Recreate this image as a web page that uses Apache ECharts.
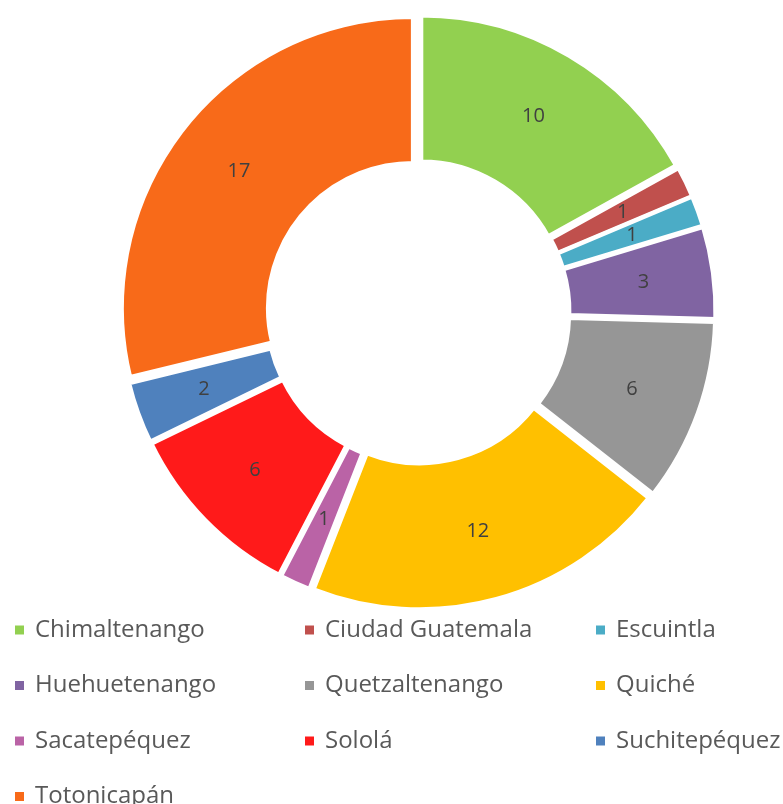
<!DOCTYPE html>
<html>
<head>
<meta charset="utf-8">
<script src="https://cdn.jsdelivr.net/npm/echarts@6/dist/echarts.min.js"></script>
<style>
  html, body { margin: 0; padding: 0; background: #fff; }
  #chart { width: 783px; height: 804px; }
</style>
</head>
<body>
<div id="chart"></div>
<script>
  // datos del gráfico (en orden horario desde las 12)
  var departamentos = ['Chimaltenango', 'Ciudad Guatemala', 'Escuintla', 'Huehuetenango', 'Quetzaltenango',
    'Quiché', 'Sacatepéquez', 'Sololá', 'Suchitepéquez', 'Totonicapán'];
  var cantidades = [10, 1, 1, 3, 6, 12, 1, 6, 2, 17];
  var colores = ['#92D050', '#C0504D', '#4BACC6', '#8064A2', '#969696',
    '#FFC000', '#BA63A6', '#FF1A1A', '#4F81BD', '#F86A19'];

  var chart = echarts.init(document.getElementById('chart'));

  var datos = departamentos.map(function (nombre, i) {
    return { name: nombre, value: cantidades[i], selected: true, itemStyle: { color: colores[i] } };
  });

  // leyenda en 3 columnas; la cuarta fila va aparte para que no se parta
  var xCol = [13, 303, 594];
  var filaAlto = 55.5;
  var leyendas = [];
  departamentos.forEach(function (nombre, i) {
    var fila = Math.floor(i / 3), col = i % 3;
    leyendas.push({
      left: xCol[col],
      top: 618 + fila * filaAlto,
      padding: 0,
      itemWidth: 11,
      itemHeight: 11,
      icon: 'rect',
      selectedMode: false,
      data: [nombre],
      textStyle: {
        fontFamily: 'Open Sans',
        fontSize: 24,
        lineHeight: 24,
        color: '#595959',
        padding: [0, 0, 0, 5]
      }
    });
  });

  var option = {
    animation: false,
    color: colores,
    legend: leyendas,
    series: [{
      type: 'pie',
      center: [418, 312],
      radius: [145, 291],
      startAngle: 90,
      clockwise: true,
      selectedMode: 'multiple',
      selectedOffset: 6.5,
      emphasis: { disabled: true },
      itemStyle: {
        borderColor: '#ffffff',
        borderWidth: 4
      },
      label: {
        show: true,
        position: 'inside',
        formatter: '{c}',
        fontFamily: 'Open Sans',
        fontSize: 20,
        color: '#404040',
        textBorderWidth: 0
      },
      labelLine: { show: false },
      data: datos
    }]
  };

  chart.setOption(option);
  window.addEventListener('resize', function () {
    chart.resize();
  });
</script>
</body>
</html>
